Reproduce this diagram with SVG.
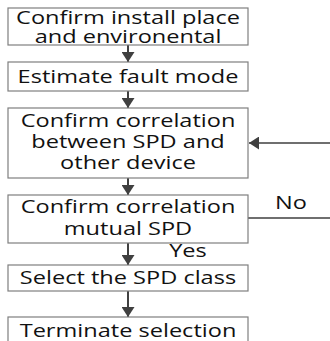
<svg xmlns="http://www.w3.org/2000/svg" width="330" height="341" viewBox="0 0 330 341">
<style>
.box{fill:#fff;stroke:#7f7f7f;stroke-width:1.2}
.t{font-family:"Open Sans","DejaVu Sans",sans-serif;font-size:19px;fill:#111;text-anchor:middle}
.c{fill:none;stroke:#404040;stroke-width:2}
</style>
<defs>
<marker id="ah" viewBox="0 0 10 10" refX="10" refY="5" markerWidth="10" markerHeight="13" markerUnits="userSpaceOnUse" orient="auto" preserveAspectRatio="none">
<path d="M0,0 L10,5 L0,10 z" fill="#404040"/>
</marker>
</defs>
<rect width="330" height="341" fill="#fff"/>
<g id="connectors">
<path class="c" d="M128,45 V62" marker-end="url(#ah)"/>
<path class="c" d="M128,91 V108" marker-end="url(#ah)"/>
<path class="c" d="M128,178 V195" marker-end="url(#ah)"/>
<path class="c" d="M128,243 V265" marker-end="url(#ah)"/>
<path class="c" d="M128,291 V317" marker-end="url(#ah)"/>
<path class="c" d="M248,218 H336 V143 H249" marker-end="url(#ah)" style="stroke-width:1.3"/>
<text class="t" transform="translate(291,209) scale(1.24,1)">No</text>
<text class="t" transform="translate(188,257) scale(1.24,1)">Yes</text>
</g>
<g id="n1">
<rect class="box" x="8" y="8" width="240" height="37"/>
<text class="t" transform="translate(128,24) scale(1.24,1)">Confirm install place</text>
<text class="t" transform="translate(128,43) scale(1.24,1)">and environental</text>
</g>
<g id="n2">
<rect class="box" x="8" y="62" width="240" height="29"/>
<text class="t" transform="translate(128,83) scale(1.24,1)">Estimate fault mode</text>
</g>
<g id="n3">
<rect class="box" x="8" y="108" width="240" height="70"/>
<text class="t" transform="translate(128,127) scale(1.24,1)">Confirm correlation</text>
<text class="t" transform="translate(128,148) scale(1.24,1)">between SPD and</text>
<text class="t" transform="translate(128,169) scale(1.24,1)">other device</text>
</g>
<g id="n4">
<rect class="box" x="8" y="195" width="240" height="48"/>
<text class="t" transform="translate(128,213) scale(1.24,1)">Confirm correlation</text>
<text class="t" transform="translate(128,235) scale(1.24,1)">mutual SPD</text>
</g>
<g id="n5">
<rect class="box" x="8" y="265" width="240" height="26"/>
<text class="t" transform="translate(128,284) scale(1.24,1)">Select the SPD class</text>
</g>
<g id="n6">
<rect class="box" x="8" y="317" width="240" height="30"/>
<text class="t" transform="translate(128,337) scale(1.24,1)">Terminate selection</text>
</g>
</svg>
